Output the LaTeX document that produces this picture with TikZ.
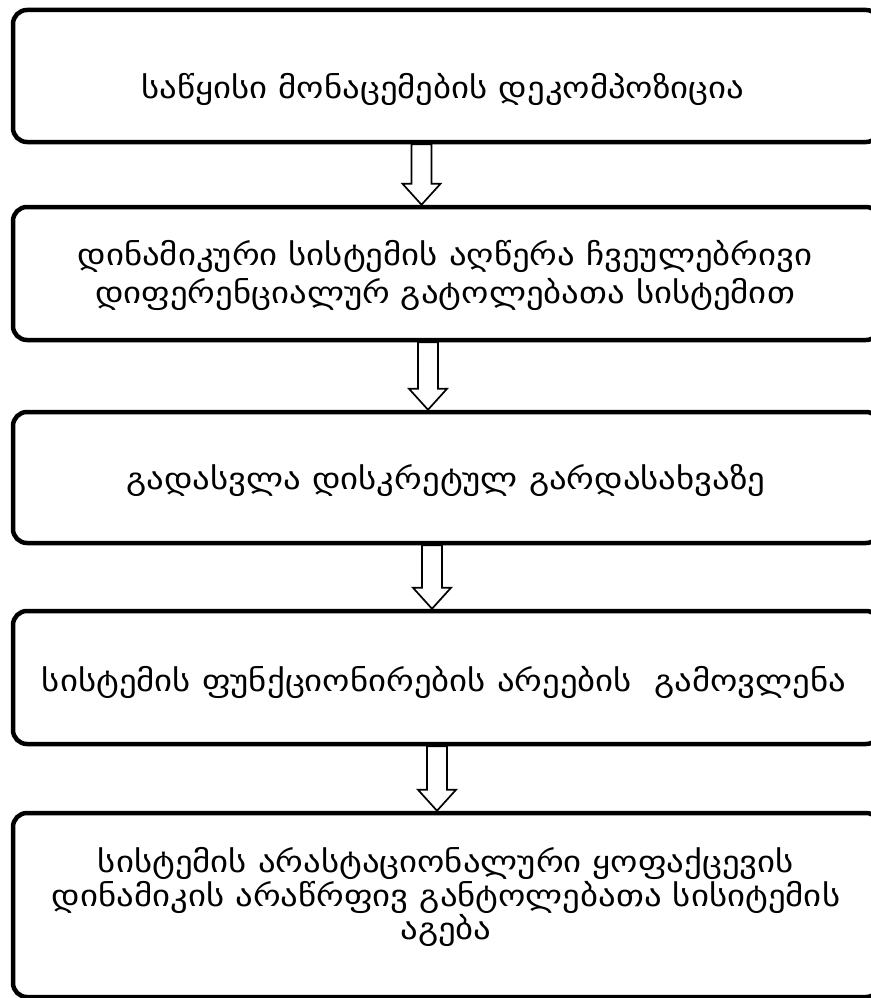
\documentclass[tikz,border=0pt]{standalone}
\usepackage{fontspec}
\newfontfamily\geo{DejaVu Sans}[FakeStretch=1.16]
\usetikzlibrary{calc}
\tikzset{
  stepbox/.style={draw=black, line width=4.5pt, rounded corners=14pt,
    minimum width=867pt, inner sep=0pt},
  txt/.style={font=\geo\fontsize{30pt}{36pt}\selectfont, align=center, inner sep=0pt},
  barrow/.style={draw=black, line width=1.7pt, fill=white, line join=miter}
}
\newcommand\blockarr[3]{%
  \draw[barrow] let \p1=(#1.south), \p2=(#2.north) in
    ({#3pt-10pt},\y1) -- ({#3pt+10pt},\y1) -- ({#3pt+10pt},\y2+21pt)
    -- ({#3pt+19pt},\y2+21pt) -- ({#3pt},\y2) -- ({#3pt-19pt},\y2+21pt)
    -- ({#3pt-10pt},\y2+21pt) -- cycle;}
\begin{document}
\begin{tikzpicture}[x=1pt,y=-1pt]
\useasboundingbox (0,0) rectangle (870,998);
\node[stepbox, minimum height=132pt] (b1) at (446.5,76) {};
\node[stepbox, minimum height=133pt] (b2) at (446.5,273.5) {};
\node[stepbox, minimum height=131pt] (b3) at (446.5,477.5) {};
\node[stepbox, minimum height=133pt] (b4) at (446.5,677.5) {};
\node[stepbox, minimum height=184pt] (b5) at (446.5,905) {};
\node[txt] (t1) at (443,89) {საწყისი მონაცემების დეკომპოზიცია};
\node[txt, font=\geo\fontsize{30pt}{38pt}\selectfont] (t2) at (445,275) {დინამიკური სისტემის აღწერა ჩვეულებრივი\\დიფერენციალურ გატოლებათა სისტემით};
\node[txt] (t3) at (446,480) {გადასვლა დისკრეტულ გარდასახვაზე};
\node[txt] (t4) at (444,682) {სისტემის ფუნქციონირების არეების~ გამოვლენა};
\node[txt, font=\geo\fontsize{30pt}{31pt}\selectfont] (t5) at (446,897) {სისტემის არასტაციონალური ყოფაქცევის\\დინამიკის არაწრფივ განტოლებათა სისიტემის\\აგება};
\blockarr{b1}{b2}{421.5}
\blockarr{b2}{b3}{428}
\blockarr{b3}{b4}{432}
\blockarr{b4}{b5}{437}
\end{tikzpicture}
\end{document}
